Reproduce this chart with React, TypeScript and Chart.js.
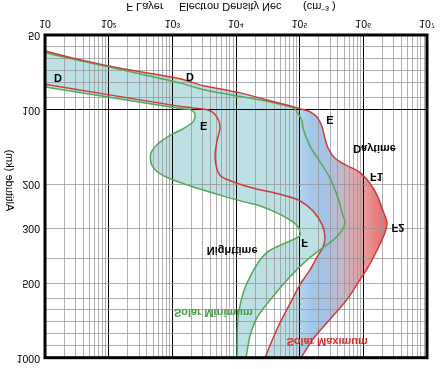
import React, { useEffect, useRef } from "react";
import { Chart, registerables } from "chart.js";

Chart.register(...registerables);

// ---- Electron density profiles (density in cm^-3, altitude in km) ----
const dayMaxAltitude = [58, 62, 68, 75, 80, 85, 92, 99, 102, 107, 117, 131, 143, 157, 168, 176, 184, 198, 221, 256, 285, 313, 349, 419, 485, 583, 700, 841, 1000];
const dayMaxDensity = [10, 28, 150, 1300, 3000, 10400, 34000, 1.0e5, 1.45e5, 1.87e5, 2.24e5, 2.5e5, 2.8e5, 3.6e5, 5.5e5, 8.0e5, 9.9e5, 1.27e6, 1.64e6, 2.04e6, 2.35e6, 2.19e6, 1.82e6, 1.27e6, 8.85e5, 5.53e5, 3.0e5, 1.62e5, 1.05e5];

const dayMinAltitude = [59, 67, 78, 83, 88, 93, 98, 102, 111, 119, 140, 162, 189, 227, 268, 285, 307, 336, 365, 404, 472, 567, 681, 818, 1000];
const dayMinDensity = [10, 94, 1320, 3030, 10400, 34000, 78500, 91000, 1.09e5, 1.13e5, 1.45e5, 2.08e5, 3.0e5, 4.0e5, 4.8e5, 5.15e5, 4.62e5, 3.34e5, 2.16e5, 1.3e5, 70500, 38000, 22000, 16600, 14400];

const nightMaxAltitude = [79, 97, 98, 101, 109, 119, 135, 157, 184, 198, 207, 221, 233, 256, 290, 327, 359, 393, 443, 508, 605, 767, 1000];
const nightMaxDensity = [10, 1320, 1900, 3900, 5200, 5600, 5000, 4700, 5600, 10400, 18500, 54700, 1.01e5, 1.62e5, 2.24e5, 2.5e5, 2.32e5, 1.87e5, 1.45e5, 1.01e5, 70500, 44000, 28500];

const nightMinAltitude = [81, 99, 100, 104, 112, 120, 127, 137, 150, 168, 184, 201, 221, 237, 244, 268, 293, 321, 336, 369, 404, 472, 551, 700, 1000];
const nightMinDensity = [10, 1320, 1900, 2270, 2110, 1420, 920, 600, 460, 480, 710, 1700, 5600, 14900, 23800, 54700, 90800, 1.01e5, 75000, 34000, 23800, 16600, 12900, 10700, 10400];

// ---- Axes ----
const xDecades = [10, 100, 1e3, 1e4, 1e5, 1e6, 1e7];
const xTickLabels = ["10", "10\u00B2", "10\u00B3", "10\u2074", "10\u2075", "10\u2076", "10\u2077"];
const yGridValues = [50, 55.6, 62, 69.4, 78, 89, 100, 200, 300, 400, 500, 577, 638, 713, 796, 897, 1000];
const yLabelValues = [50, 100, 200, 300, 500, 1000];
const xTitle = "F Layer     Electron Density Nec       (cm\u207B\u00B3 )";
const yTitle = "Altitude (km)";

// ---- In-plot labels ----
const noteTexts = ["D", "D", "E", "E", "Daytime", "F1", "F2", "F", "Nighttime", "Solar Minimum", "Solar Maximum"];
const noteDensity = [16, 1900, 3100, 3.0e5, 1.5e6, 1.6e6, 3.5e6, 1.2e5, 8700, 4400, 2.7e5];
const noteAltitude = [74, 73, 115, 109, 143, 185, 296, 343, 368, 656, 857];

const RED = "rgb(205,60,60)";
const GREEN = "rgb(85,168,85)";
const FONT = '"Liberation Sans", Arial, sans-serif';

const pts = (d: number[], a: number[]) => d.map((v, i) => ({ x: v, y: a[i] }));

const xGridValues: number[] = [];
for (let k = 0; k < 6; k++) {
  for (let m = 1; m <= 9; m++) xGridValues.push(m * xDecades[k]);
}
xGridValues.push(1e7);

const isDecade = (v: number) => {
  if (!v) return false;
  const l = Math.log10(v);
  return Math.abs(l - Math.round(l)) < 1e-9;
};

function tracePath(ctx: CanvasRenderingContext2D, pts: any[], reverse: boolean, start: boolean) {
  const n = pts.length;
  if (!reverse) {
    if (start) ctx.moveTo(pts[0].x, pts[0].y);
    else ctx.lineTo(pts[0].x, pts[0].y);
    for (let i = 1; i < n; i++) {
      const p = pts[i - 1];
      const c = pts[i];
      if (p.cp2x !== undefined && c.cp1x !== undefined) ctx.bezierCurveTo(p.cp2x, p.cp2y, c.cp1x, c.cp1y, c.x, c.y);
      else ctx.lineTo(c.x, c.y);
    }
  } else {
    ctx.lineTo(pts[n - 1].x, pts[n - 1].y);
    for (let i = n - 1; i > 0; i--) {
      const c = pts[i];
      const p = pts[i - 1];
      if (p.cp2x !== undefined && c.cp1x !== undefined) ctx.bezierCurveTo(c.cp1x, c.cp1y, p.cp2x, p.cp2y, p.x, p.y);
      else ctx.lineTo(p.x, p.y);
    }
  }
}

// Bands are painted before the grid so that grid lines show through them.
const bandPlugin = {
  id: "bands",
  beforeDraw(chart: any) {
    const { ctx, chartArea } = chart;
    const x = chart.scales.x;
    if (!chartArea || !x) return;
    const band = (a: number, b: number, fill: any) => {
      const ma = chart.getDatasetMeta(a);
      const mb = chart.getDatasetMeta(b);
      if (!ma.data.length || !mb.data.length) return;
      if (ma.dataset && ma.dataset.updateControlPoints) ma.dataset.updateControlPoints(chartArea, "x");
      if (mb.dataset && mb.dataset.updateControlPoints) mb.dataset.updateControlPoints(chartArea, "x");
      ctx.beginPath();
      tracePath(ctx, ma.data, false, true);
      tracePath(ctx, mb.data, true, false);
      ctx.closePath();
      ctx.fillStyle = fill;
      ctx.fill();
    };
    ctx.save();
    ctx.beginPath();
    ctx.rect(chartArea.left, chartArea.top, chartArea.right - chartArea.left, chartArea.bottom - chartArea.top);
    ctx.clip();
    band(1, 3, "rgb(188,224,228)");
    const x0 = x.getPixelForValue(1e4);
    const x1 = x.getPixelForValue(3.2e6);
    const g = ctx.createLinearGradient(x0, 0, x1, 0);
    g.addColorStop(0, "rgb(188,224,228)");
    g.addColorStop(0.36, "rgb(186,221,230)");
    g.addColorStop(0.47, "rgb(163,199,232)");
    g.addColorStop(0.58, "rgb(166,193,228)");
    g.addColorStop(0.68, "rgb(205,180,195)");
    g.addColorStop(0.8, "rgb(230,155,155)");
    g.addColorStop(0.92, "rgb(234,112,112)");
    g.addColorStop(1, "rgb(236,96,96)");
    band(0, 2, g);
    ctx.restore();
  },
};

const decorPlugin = {
  id: "decor",
  afterDraw(chart: any) {
    const { ctx, chartArea } = chart;
    const x = chart.scales.x;
    const y = chart.scales.y;
    ctx.save();
    ctx.strokeStyle = "#000";
    ctx.lineWidth = 3;
    ctx.strokeRect(chartArea.left, chartArea.top, chartArea.right - chartArea.left, chartArea.bottom - chartArea.top);
    ctx.textAlign = "center";
    ctx.textBaseline = "middle";
    noteTexts.forEach((t, i) => {
      const isMin = t === "Solar Minimum";
      const isMax = t === "Solar Maximum";
      ctx.fillStyle = isMin ? "rgb(70,160,70)" : isMax ? "rgb(205,50,50)" : "#000";
      ctx.font = `bold 11px ${FONT}`;
      ctx.fillText(t, x.getPixelForValue(noteDensity[i]), y.getPixelForValue(noteAltitude[i]));
    });
    ctx.fillStyle = "#000";
    ctx.font = `11px ${FONT}`;
    ctx.fillText(xTitle, (chartArea.left + chartArea.right) / 2 - 5, chart.height - 6.5);
    ctx.translate(9, (chartArea.top + chartArea.bottom) / 2 + 16);
    ctx.rotate(Math.PI / 2);
    ctx.fillText(yTitle, 0, 0);
    ctx.restore();
  },
};

export default function App() {
  const ref = useRef<HTMLCanvasElement>(null);
  useEffect(() => {
    const canvas = ref.current;
    if (!canvas) return;
    const line = (label: string, d: number[], a: number[], color: string) => ({
      label,
      data: pts(d, a),
      showLine: true,
      borderColor: color,
      backgroundColor: color,
      borderWidth: 1.5,
      pointRadius: 0,
      tension: 0.3,
      fill: false,
    });
    const chart = new Chart(canvas, {
      type: "scatter",
      data: {
        datasets: [
          line("Daytime, Solar Maximum", dayMaxDensity, dayMaxAltitude, RED),
          line("Daytime, Solar Minimum", dayMinDensity, dayMinAltitude, GREEN),
          line("Nighttime, Solar Maximum", nightMaxDensity, nightMaxAltitude, RED),
          line("Nighttime, Solar Minimum", nightMinDensity, nightMinAltitude, GREEN),
        ] as any,
      },
      options: {
        responsive: false,
        animation: false,
        devicePixelRatio: 1,
        events: [],
        layout: { padding: { top: 8, right: 15, left: 0, bottom: 0 } },
        plugins: { legend: { display: false }, tooltip: { enabled: false } },
        scales: {
          x: {
            type: "logarithmic",
            position: "bottom",
            min: 10,
            max: 1e7,
            afterBuildTicks: (s: any) => {
              s.ticks = xGridValues.map((v) => ({ value: v }));
            },
            afterFit: (s: any) => {
              s.height = 35;
            },
            ticks: {
              autoSkip: false,
              maxRotation: 0,
              minRotation: 0,
              padding: 6,
              color: "#000",
              font: { family: FONT, size: 10.5 },
              callback: (v: any) => {
                const i = xDecades.findIndex((d) => Math.abs(d - Number(v)) < d * 1e-6);
                return i >= 0 ? xTickLabels[i] : "";
              },
            },
            grid: {
              drawTicks: false,
              lineWidth: 1,
              color: (c: any) => (c.tick && isDecade(c.tick.value) ? "#000" : "rgba(150,150,150,0.75)"),
            },
            border: { display: false },
          },
          y: {
            type: "logarithmic",
            min: 50,
            max: 1000,
            afterBuildTicks: (s: any) => {
              s.ticks = yGridValues.map((v) => ({ value: v }));
            },
            afterFit: (s: any) => {
              s.width = 45;
            },
            ticks: {
              autoSkip: false,
              padding: 5,
              color: "#000",
              font: { family: FONT, size: 10.5 },
              callback: (v: any) => (yLabelValues.includes(Number(v)) ? String(v) : ""),
            },
            grid: {
              drawTicks: false,
              lineWidth: 1,
              color: (c: any) => (c.tick && c.tick.value === 100 ? "#000" : "rgba(150,150,150,0.75)"),
            },
            border: { display: false },
          },
        },
      } as any,
      plugins: [bandPlugin, decorPlugin],
    });
    return () => chart.destroy();
  }, []);
  return (
    <div
      style={{
        position: "fixed",
        left: 0,
        top: 0,
        width: 442,
        height: 369,
        background: "#fff",
        transform: "scaleY(-1)",
      }}
    >
      <canvas ref={ref} width={442} height={369} style={{ display: "block", width: 442, height: 369 }} />
    </div>
  );
}
